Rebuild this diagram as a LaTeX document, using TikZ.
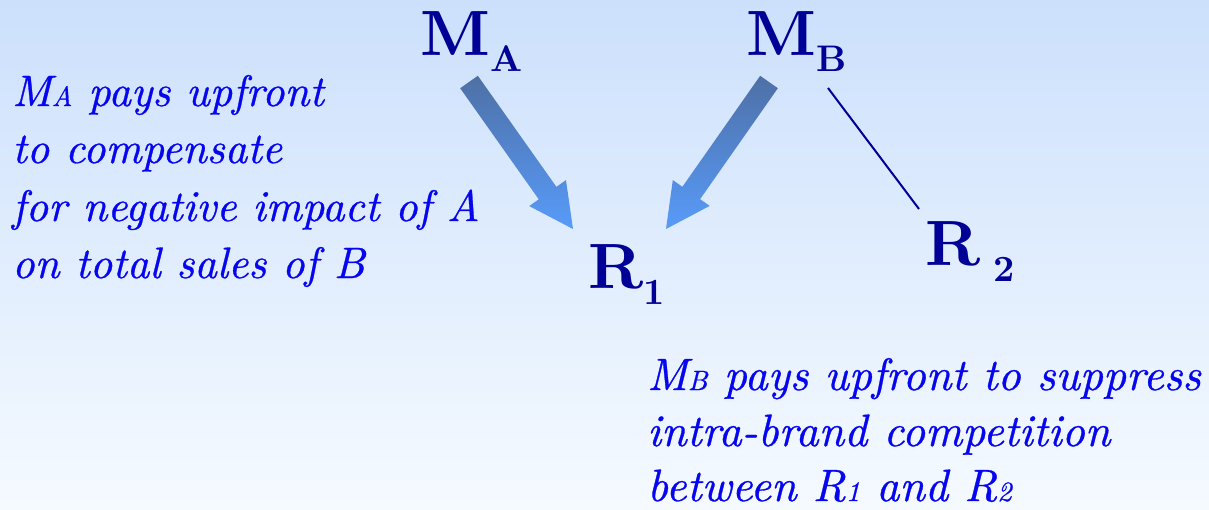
\documentclass[tikz,border=0pt]{standalone}
\usepackage{fontspec}
\usetikzlibrary{calc}
\newfontfamily\lmten{lmroman10-regular.otf}[BoldFont=lmroman10-bold.otf, ItalicFont=lmroman10-italic.otf]
\newfontfamily\lmtenit{lmroman10-italic.otf}[FakeBold=0.7]
\definecolor{bgtop}{RGB}{204,224,252}
\definecolor{bgbot}{RGB}{245,250,255}
\definecolor{navy}{RGB}{0,0,150}
\definecolor{txtblue}{RGB}{5,5,240}
\definecolor{arrtop}{RGB}{78,112,165}
\definecolor{arrbot}{RGB}{88,155,250}
\newcommand{\palit}{\lmtenit\fontsize{44}{57}\selectfont}
\newcommand{\palitr}{\lmtenit\fontsize{45.3}{57}\selectfont}
\newcommand{\smallpal}[1]{{\fontsize{28}{28}\selectfont #1}}
\newcommand{\bigbx}{\lmten\bfseries\fontsize{64}{64}\selectfont}
\newcommand{\subbx}[1]{\raisebox{-16pt}{\lmten\bfseries\fontsize{37}{37}\selectfont #1}}
\tikzset{
  lbl/.style={inner sep=0pt, anchor=base west, text=navy, font=\bigbx},
  txt/.style={inner sep=0pt, anchor=base west, text=txtblue, font=\palit},
  txtr/.style={txt, font=\palitr},
  link/.style={draw=navy, line width=2pt}
}
% block arrow from #1 to #2
\newcommand{\blockarrow}[2]{%
  \shade[top color=arrtop, bottom color=arrbot]
    ($(#1)!10.8pt!90:(#2)$) --
    ($($(#2)!44pt!(#1)$)!10.8pt!-90:(#1)$) --
    ($($(#2)!44pt!(#1)$)!22.5pt!-90:(#1)$) --
    (#2) --
    ($($(#2)!44pt!(#1)$)!22.5pt!90:(#1)$) --
    ($($(#2)!44pt!(#1)$)!10.8pt!90:(#1)$) --
    ($(#1)!10.8pt!-90:(#2)$) -- cycle;}
\begin{document}
\begin{tikzpicture}[x=1pt,y=-1pt]
\useasboundingbox (0,0) rectangle (1209,509);
\shade[top color=bgtop, bottom color=bgbot] (0,0) rectangle (1209,509);

% main labels
\node[lbl] (MA) at (420,55) {M\subbx{A}};
\node[lbl] (MB) at (746,55) {M\subbx{B}};
\node[lbl] (R1) at (588,288) {R\subbx{1}};
\node[lbl] (R2) at (925,265) {R\hspace{13pt}\subbx{2}};

% arrow end points
\coordinate (ta) at (469,82);
\coordinate (pa) at (573,229);
\coordinate (tb) at (769,82);
\coordinate (pb) at (666,229);
\blockarrow{ta}{pa}
\blockarrow{tb}{pb}

% thin link M_B -- R_2
\coordinate (lb) at (828,88);
\coordinate (lr) at (919,209);
\draw[link] (lb) -- (lr);

% left text
\node[txt] (l1) at (12,106) {M\smallpal{A} pays upfront};
\node[txt] (l2) at (12,163) {to compensate};
\node[txt] (l3) at (12,221) {for negative impact of A};
\node[txt] (l4) at (12,278) {on total sales of B};

% right text
\node[txtr] (r1) at (647,390) {M\smallpal{B} pays upfront to suppress};
\node[txtr] (r2) at (647,446) {intra-brand competition};
\node[txtr] (r3) at (647,501) {between R\smallpal{1} and R\smallpal{2}};
\end{tikzpicture}
\end{document}
